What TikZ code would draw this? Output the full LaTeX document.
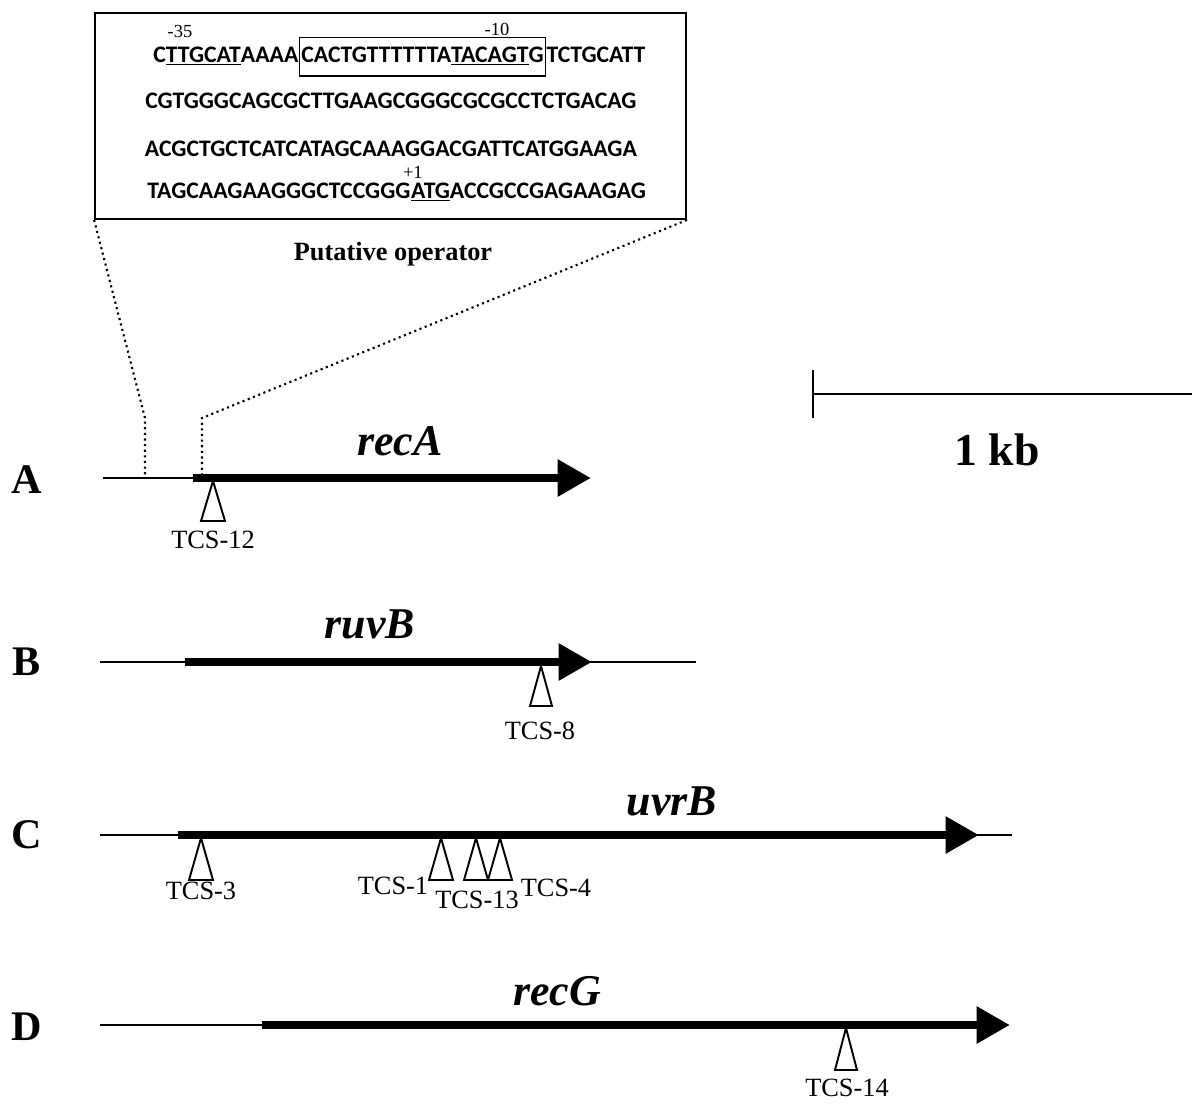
\documentclass[tikz,border=0pt]{standalone}
\usepackage{fontspec}
\setmainfont{Liberation Serif}
\newfontfamily\seqfont{Carlito}
\usetikzlibrary{arrows.meta,positioning}

\begin{document}
\begin{tikzpicture}[x=0.02cm,y=-0.02cm]
\tikzstyle{seq}=[font=\seqfont\bfseries\fontsize{13.5}{15}\selectfont, inner sep=0pt]
\tikzstyle{seqbox}=[seq, draw, line width=0.9pt, inner xsep=1pt, inner ysep=0pt, text height=14pt, text depth=8pt]
\tikzstyle{posn}=[font=\fontsize{10.5}{12}\selectfont, inner sep=0pt]
\tikzstyle{thinline}=[line width=1.2pt]
\tikzstyle{gene}=[line width=5pt, -{Triangle[length=19pt,width=20pt]}]
\tikzstyle{ins}=[line width=1.1pt, fill=white, line join=miter]
\tikzstyle{tcs}=[font=\fontsize{15}{17}\selectfont, inner sep=0pt]
\tikzstyle{lane}=[font=\bfseries\fontsize{24}{28}\selectfont, inner sep=0pt]
\tikzstyle{gname}=[font=\bfseries\itshape\fontsize{25}{30}\selectfont, inner sep=0pt]
\tikzstyle{zoomline}=[dotted, line width=1.2pt]

\useasboundingbox (0,0) rectangle (1192,1103);

% promoter region
\node (frame) [draw, line width=1.1pt, minimum width=11.82cm, minimum height=4.12cm, inner sep=0pt] at (390.5,116) {};
\node (l1a) [seq, anchor=base west] at (153,62) {C\underline{TTGCAT}AAAA};
\node (l1b) [seqbox, anchor=base west] at (l1a.base east) {CACTGTTTTTTA\underline{TACAGT}G};
\node (l1c) [seq, anchor=base west] at (l1b.base east) {TCTGCATT};
\node (m35) [posn] at (180,31) {-35};
\node (m10) [posn] at (497,29) {-10};
\node (l2) [seq, anchor=base] at (391,108) {CGTGGGCAGCGCTTGAAGCGGGCGCGCCTCTGACAG};
\node (l3) [seq, anchor=base] at (391,156) {ACGCTGCTCATCATAGCAAAGGACGATTCATGGAAGA};
\node (l4a) [seq, anchor=base west] at (147,198) {TAGCAAGAAGGGCTCCGGG};
\node (l4b) [seq, anchor=base west] at (l4a.base east) {\underline{ATG}ACCGCCGAGAAGAG};
\node (p1) [posn, anchor=south] at ([shift={(2,-19)}]l4b.base west) {+1};
\node (oper) [font=\bfseries\fontsize{15}{17}\selectfont, anchor=base] at (393,260) {Putative operator};

% zoom lines
\coordinate (zl) at (145,418);
\coordinate (zr) at (202,418);
\coordinate (zlA) at (145,475);
\coordinate (zrA) at (202,475);
\draw[zoomline] (frame.south west) -- (zl) -- (zlA);
\draw[zoomline] (frame.south east) -- (zr) -- (zrA);

% scale bar
\coordinate (s0) at (813,394);
\coordinate (s1) at (1192,394);
\draw[thinline] (813,370) -- (813,418);
\draw[thinline] (s0) -- (s1);
\node (kb) [lane, font=\bfseries\fontsize{26}{30}\selectfont] at (997,450) {1 kb};

% A: recA
\node (A) [lane] at (27,480) {A};
\coordinate (A0) at (103,478);
\coordinate (A1) at (193,478);
\coordinate (A2) at (591,478);
\draw[thinline] (A0) -- (A1);
\draw[gene] (A1) -- (A2);
\node (recA) [gname] at (400,441) {recA};
\draw[ins] (213,481) -- ++(-12,40) -- ++(24,0) -- cycle;
\node (t12) [tcs] at (213,540) {TCS-12};

% B: ruvB
\node (B) [lane] at (27,662) {B};
\coordinate (B0) at (100,662);
\coordinate (B1) at (185,662);
\coordinate (B2) at (592,662);
\coordinate (B3) at (696,662);
\draw[thinline] (B0) -- (B3);
\draw[gene] (B1) -- (B2);
\node (ruvB) [gname] at (370,624) {ruvB};
\draw[ins] (541,666) -- ++(-11,40) -- ++(22,0) -- cycle;
\node (t8) [tcs] at (540,731) {TCS-8};

% C: uvrB
\node (C) [lane] at (27,835) {C};
\coordinate (C0) at (100,835);
\coordinate (C1) at (178,835);
\coordinate (C2) at (979,835);
\coordinate (C3) at (1012,835);
\draw[thinline] (C0) -- (C3);
\draw[gene] (C1) -- (C2);
\node (uvrB) [gname] at (672,801) {uvrB};
\draw[ins] (201,838) -- ++(-12,42) -- ++(24,0) -- cycle;
\draw[ins] (441,838) -- ++(-12,42) -- ++(24,0) -- cycle;
\draw[ins] (476,838) -- ++(-12,42) -- ++(24,0) -- cycle;
\draw[ins] (500,838) -- ++(-12,42) -- ++(24,0) -- cycle;
\node (t3) [tcs] at (201,891) {TCS-3};
\node (t1) [tcs] at (393,886) {TCS-1};
\node (t13) [tcs] at (477,900) {TCS-13};
\node (t4) [tcs] at (556,888) {TCS-4};

% D: recG
\node (D) [lane] at (27,1027) {D};
\coordinate (D0) at (100,1025);
\coordinate (D1) at (262,1025);
\coordinate (D2) at (1010,1025);
\draw[thinline] (D0) -- (D1);
\draw[gene] (D1) -- (D2);
\node (recG) [gname] at (557,991) {recG};
\draw[ins] (846,1028) -- ++(-11,42) -- ++(22,0) -- cycle;
\node (t14) [tcs] at (847,1088) {TCS-14};
\end{tikzpicture}
\end{document}
